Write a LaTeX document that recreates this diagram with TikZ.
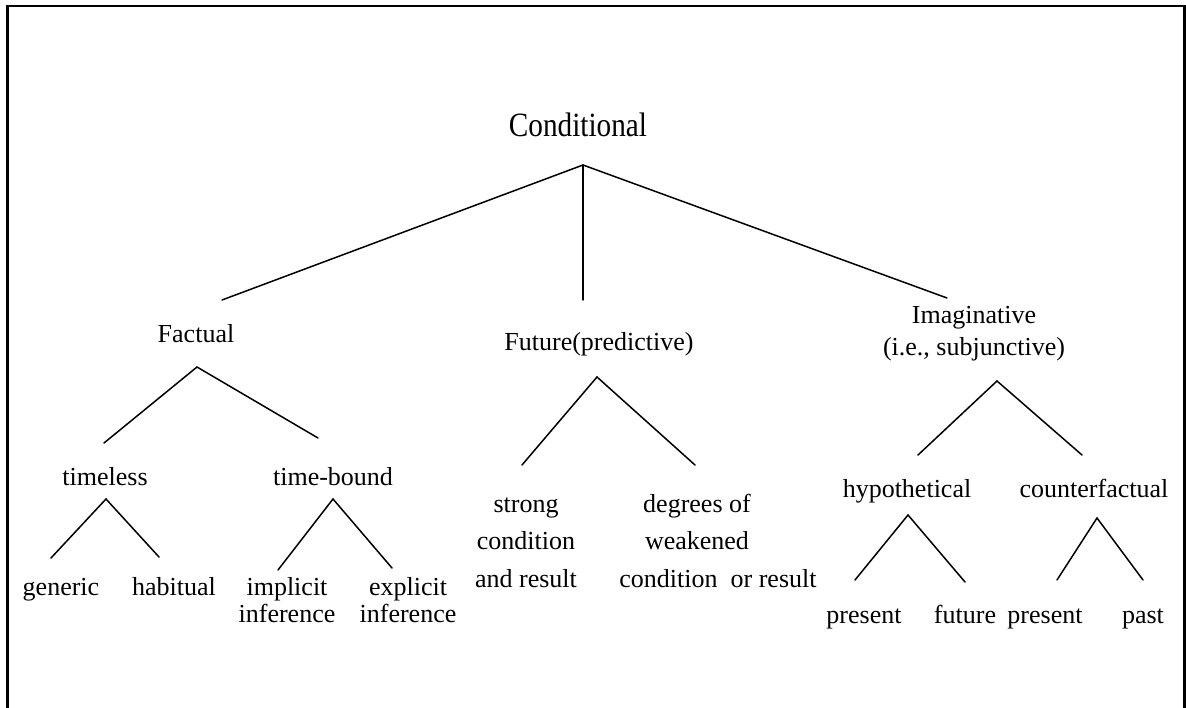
\documentclass[tikz,border=0pt]{standalone}
\usepackage{fontspec}
\setmainfont{Liberation Serif}
\usepackage{graphicx}
\tikzset{
  lbl/.style={font=\fontsize{26}{30}\selectfont, inner sep=0pt, anchor=base},
  mlbl/.style={inner sep=0pt, anchor=north, align=center},
  branch/.style={line width=1.5pt, line cap=round},
  frameline/.style={line width=2.3pt}
}
\begin{document}
\begin{tikzpicture}[x=1pt, y=-1pt]
\useasboundingbox (0,0) rectangle (1186,708);
% frame (open at the bottom)
\draw[frameline] (7.5,708) -- (7.5,6) -- (1184.5,6) -- (1184.5,708);

% texts
\node[lbl, font=\fontsize{34}{40}\selectfont] (cond) at (578,137) {\scalebox{0.86}[1]{Conditional}};
\node[lbl] (fact) at (196,343) {Factual};
\node[lbl] (fut) at (599,351) {Future(predictive)};
\node[mlbl, font=\fontsize{26}{32}\selectfont] (imag) at (974,303) {\rule{0pt}{20pt}Imaginative\\(i.e., subjunctive)};
\node[lbl] (timeless) at (105,485) {timeless};
\node[lbl] (timebound) at (333,485) {time-bound};
\node[mlbl, font=\fontsize{26}{37.5}\selectfont] (strong) at (526,492) {\rule{0pt}{20pt}strong\\condition\\and result};
\node[mlbl, font=\fontsize{26}{37.5}\selectfont] (weak) at (708,492) {\rule{0pt}{20pt}\mbox{degrees of\hspace*{22pt}}\\\mbox{weakened\hspace*{22pt}}\\\mbox{\hspace*{20pt}condition\ \ or result}};
\node[lbl] (hyp) at (907,497) {hypothetical};
\node[lbl] (counter) at (1094,497) {counterfactual};
\node[lbl] (generic) at (61,595) {generic};
\node[lbl] (habitual) at (174,595) {habitual};
\node[mlbl, font=\fontsize{26}{27}\selectfont] (implicit) at (287,575) {\rule{0pt}{20pt}implicit\\inference};
\node[mlbl, font=\fontsize{26}{27}\selectfont] (explicit) at (408,575) {\rule{0pt}{20pt}explicit\\inference};
\node[lbl] (hpres) at (864,623) {present};
\node[lbl] (hfut) at (965,623) {future};
\node[lbl] (cpres) at (1045,623) {present};
\node[lbl] (cpast) at (1143,623) {past};

% branch points
\coordinate (cond-a) at (583,165);
\coordinate (fact-t) at (222,300);
\coordinate (fut-t) at (583,300);
\coordinate (imag-t) at (947,298);

\coordinate (fact-a) at (197,367);
\coordinate (timeless-t) at (104,443);
\coordinate (timebound-t) at (318,438);

\coordinate (timeless-a) at (106,499);
\coordinate (generic-t) at (51,558);
\coordinate (habitual-t) at (159,557);

\coordinate (timebound-a) at (333,499);
\coordinate (implicit-t) at (278,570);
\coordinate (explicit-t) at (392,568);

\coordinate (fut-a) at (597,377);
\coordinate (strong-t) at (522,465);
\coordinate (weak-t) at (695,465);

\coordinate (imag-a) at (997,381);
\coordinate (hyp-t) at (918,455);
\coordinate (counter-t) at (1082,455);

\coordinate (hyp-a) at (908,515);
\coordinate (hpres-t) at (855,580);
\coordinate (hfut-t) at (965,582);

\coordinate (counter-a) at (1097,518);
\coordinate (cpres-t) at (1057,580);
\coordinate (cpast-t) at (1143,580);

% connectors
\draw[branch] (fact-t) -- (cond-a) -- (imag-t);
\draw[branch] (cond-a) -- (fut-t);
\draw[branch] (timeless-t) -- (fact-a) -- (timebound-t);
\draw[branch] (generic-t) -- (timeless-a) -- (habitual-t);
\draw[branch] (implicit-t) -- (timebound-a) -- (explicit-t);
\draw[branch] (strong-t) -- (fut-a) -- (weak-t);
\draw[branch] (hyp-t) -- (imag-a) -- (counter-t);
\draw[branch] (hpres-t) -- (hyp-a) -- (hfut-t);
\draw[branch] (cpres-t) -- (counter-a) -- (cpast-t);
\end{tikzpicture}
\end{document}
